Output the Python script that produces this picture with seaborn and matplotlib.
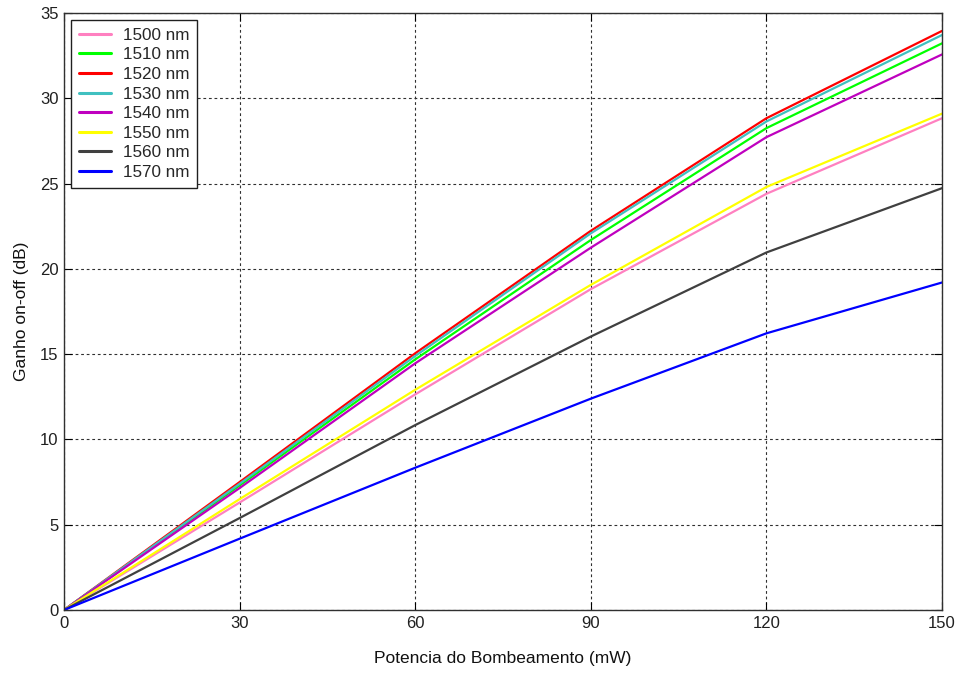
import matplotlib
matplotlib.use("Agg")
import matplotlib.pyplot as plt
import seaborn as sns
import pandas as pd

potencia = [0, 30, 60, 90, 120, 150]
labels = ["1500 nm", "1510 nm", "1520 nm", "1530 nm", "1540 nm", "1550 nm", "1560 nm", "1570 nm"]
g1500 = [0, 6.3, 12.64, 18.81, 24.4, 28.83]
g1510 = [0, 7.3, 14.69, 21.69, 28.25, 33.22]
g1520 = [0, 7.5, 15.05, 22.23, 28.83, 33.95]
g1530 = [0, 7.4, 14.89, 22.08, 28.64, 33.71]
g1540 = [0, 7.15, 14.46, 21.24, 27.72, 32.57]
g1550 = [0, 6.5, 12.91, 19.06, 24.8, 29.1]
g1560 = [0, 5.39, 10.84, 16.03, 20.96, 24.73]
g1570 = [0, 4.18, 8.34, 12.39, 16.22, 19.2]
series = [g1500, g1510, g1520, g1530, g1540, g1550, g1560, g1570]
colors = ["#FF80C0", "#00FF00", "#FF0000", "#40C0C0", "#BF00BF", "#FFFF00", "#404040", "#0000FF"]

rows = []
for lab, vals in zip(labels, series):
    for x, y in zip(potencia, vals):
        rows.append({"Potencia": x, "Ganho": y, "Comprimento": lab})
df = pd.DataFrame(rows)

sns.set_style("white")
plt.rcParams["font.family"] = ["Liberation Sans", "DejaVu Sans"]

fig = plt.figure(figsize=(9.59, 6.73), dpi=100)
ax = fig.add_axes([64/959, 1 - 610/673, (942 - 64)/959, (610 - 13)/673])
sns.lineplot(data=df, x="Potencia", y="Ganho", hue="Comprimento", hue_order=labels,
             palette=colors, linewidth=1.6, ax=ax, sort=False)

ax.set_xlim(0, 150)
ax.set_ylim(0, 35)
ax.set_xticks([0, 30, 60, 90, 120, 150])
ax.set_yticks([0, 5, 10, 15, 20, 25, 30, 35])
ax.grid(True, color="#303030", linestyle=(0, (2.5, 2.5)), linewidth=0.8)
ax.tick_params(direction="in", length=6, labelsize=12, colors="black", top=True, right=True,
               bottom=True, left=True, pad=4, labelcolor="#202020")
for s in ax.spines.values():
    s.set_color("#303030")
    s.set_linewidth(1.0)
ax.set_xlabel("Potencia do Bombeamento (mW)", fontsize=12.5, labelpad=15, color="#111111")
ax.set_ylabel("Ganho on-off (dB)", fontsize=12.5, labelpad=8, color="#111111")

leg = ax.legend(loc="upper left", bbox_to_anchor=(7/878, 1 - 7/597), fontsize=12.3, frameon=True,
                fancybox=False, edgecolor="#202020", framealpha=1, handlelength=1.9,
                labelspacing=0.27, borderpad=0.45, handletextpad=0.7, borderaxespad=0)
leg.get_frame().set_linewidth(1.0)
for h in leg.get_lines():
    h.set_linewidth(2.2)

fig.savefig("out.png", dpi=100, facecolor="white")
